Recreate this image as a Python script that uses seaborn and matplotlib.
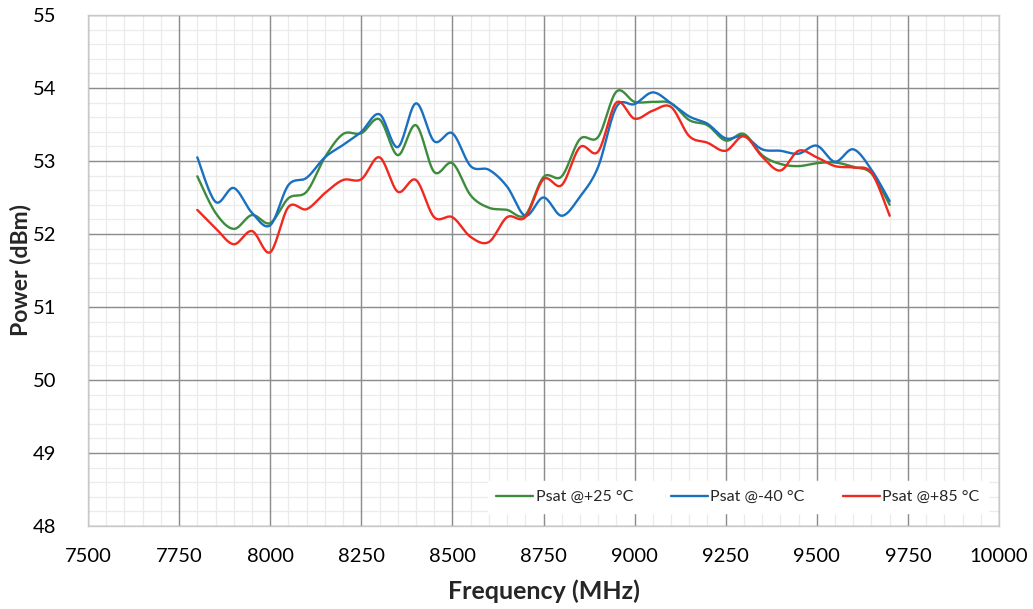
import numpy as np
import pandas as pd
import matplotlib
matplotlib.use("Agg")
import matplotlib.pyplot as plt
from matplotlib.ticker import MultipleLocator
import seaborn as sns

freq = list(range(7800, 9701, 50))

psat_25 = [52.79, 52.29, 52.07, 52.26, 52.15, 52.49, 52.58, 53.05, 53.37, 53.38,
           53.57, 53.08, 53.49, 52.85, 52.97, 52.53, 52.36, 52.33, 52.26, 52.78,
           52.79, 53.30, 53.33, 53.95, 53.81, 53.81, 53.79, 53.56, 53.49, 53.28,
           53.37, 53.08, 52.96, 52.93, 52.97, 52.98, 52.92, 52.83, 52.40]
psat_m40 = [53.05, 52.44, 52.63, 52.29, 52.12, 52.67, 52.77, 53.05, 53.22, 53.40,
            53.64, 53.19, 53.79, 53.27, 53.38, 52.93, 52.88, 52.65, 52.25, 52.50,
            52.25, 52.51, 52.92, 53.74, 53.78, 53.94, 53.79, 53.61, 53.51, 53.31,
            53.34, 53.16, 53.14, 53.10, 53.21, 52.99, 53.16, 52.88, 52.45]
psat_85 = [52.33, 52.08, 51.86, 52.04, 51.75, 52.37, 52.34, 52.56, 52.74, 52.75,
           53.05, 52.58, 52.74, 52.23, 52.23, 51.96, 51.89, 52.23, 52.23, 52.75,
           52.67, 53.19, 53.13, 53.80, 53.58, 53.69, 53.74, 53.34, 53.25, 53.14,
           53.34, 53.06, 52.87, 53.14, 53.05, 52.93, 52.91, 52.84, 52.25]

series_names = ["Psat @+25 °C", "Psat @-40 °C", "Psat @+85 °C"]
series_vals = [psat_25, psat_m40, psat_85]
colors = ["#3d8b3d", "#1a70c0", "#f0281e"]

x_ticks = [7500, 7750, 8000, 8250, 8500, 8750, 9000, 9250, 9500, 9750, 10000]
y_ticks = [48, 49, 50, 51, 52, 53, 54, 55]


def smooth(x, y, n=20):
    """Bezier smoothing like Excel's smoothed line."""
    x = np.asarray(x, float)
    y = np.asarray(y, float)
    px = np.concatenate([[x[0]], x, [x[-1]]])
    py = np.concatenate([[y[0]], y, [y[-1]]])
    xs, ys = [], []
    t = np.linspace(0, 1, n, endpoint=False)
    for i in range(1, len(px) - 2):
        p0x, p1x, p2x, p3x = px[i - 1], px[i], px[i + 1], px[i + 2]
        p0y, p1y, p2y, p3y = py[i - 1], py[i], py[i + 1], py[i + 2]
        c1x = p1x + (p2x - p0x) / 6
        c1y = p1y + (p2y - p0y) / 6
        c2x = p2x - (p3x - p1x) / 6
        c2y = p2y - (p3y - p1y) / 6
        b0 = (1 - t) ** 3
        b1 = 3 * (1 - t) ** 2 * t
        b2 = 3 * (1 - t) * t ** 2
        b3 = t ** 3
        xs.append(b0 * p1x + b1 * c1x + b2 * c2x + b3 * p2x)
        ys.append(b0 * p1y + b1 * c1y + b2 * c2y + b3 * p2y)
    xs.append([x[-1]])
    ys.append([y[-1]])
    return np.concatenate(xs), np.concatenate(ys)


frames = []
for name, vals in zip(series_names, series_vals):
    sx, sy = smooth(freq, vals)
    frames.append(pd.DataFrame({"Frequency": sx, "Power": sy, "Series": name}))
df = pd.concat(frames, ignore_index=True)

sns.set_theme(style="white")
plt.rcParams["font.family"] = ["Lato", "DejaVu Sans"]

fig = plt.figure(figsize=(10.33, 6.09), dpi=100)
rect = [88 / 1033, 1 - 526 / 609, (999 - 88) / 1033, (526 - 15) / 609]

# background axes: minor grid only
bg = fig.add_axes(rect, zorder=0)
bg.set_xlim(7500, 10000)
bg.set_ylim(48, 55)
bg.set_xticks([])
bg.set_yticks([])
bg.xaxis.set_minor_locator(MultipleLocator(50))
bg.yaxis.set_minor_locator(MultipleLocator(0.2))
bg.grid(which="minor", color="#ebebeb", linewidth=0.9)
bg.tick_params(which="both", length=0, labelbottom=False, labelleft=False)
for s in bg.spines.values():
    s.set_visible(False)

ax = fig.add_axes(rect, zorder=1)
ax.patch.set_alpha(0)

sns.lineplot(data=df, x="Frequency", y="Power", hue="Series", hue_order=series_names,
             palette=colors, sort=False, estimator=None,
             linewidth=1.7, ax=ax, legend=True)

ax.set_xlim(7500, 10000)
ax.set_ylim(48, 55)
ax.set_xticks(x_ticks)
ax.set_yticks(y_ticks)
ax.grid(which="major", color="#8c8c8c", linewidth=1.0)
ax.set_axisbelow(True)
for s in ax.spines.values():
    s.set_color("#c8c8c8")
    s.set_linewidth(1.0)
ax.tick_params(axis="both", which="both", length=0, labelsize=14.5, colors="black")
ax.tick_params(axis="y", pad=23)
ax.tick_params(axis="x", pad=16)
ax.set_xlabel("Frequency (MHz)", fontsize=18, fontweight="bold", labelpad=10)
ax.set_ylabel("Power (dBm)", fontsize=16.5, fontweight="bold")
ax.yaxis.set_label_coords(-0.062, 0.5)

leg = ax.legend(loc="lower right", bbox_to_anchor=(0.997, 0.01), ncol=3, frameon=True,
                fontsize=11.5, handlelength=2.3, handletextpad=0.15, columnspacing=2.4,
                borderpad=0.55, fancybox=False)
leg.get_frame().set_facecolor("white")
leg.get_frame().set_edgecolor("white")
leg.get_frame().set_alpha(1.0)
for h in leg.get_lines():
    h.set_linewidth(1.7)

fig.savefig("out.png", dpi=100)
